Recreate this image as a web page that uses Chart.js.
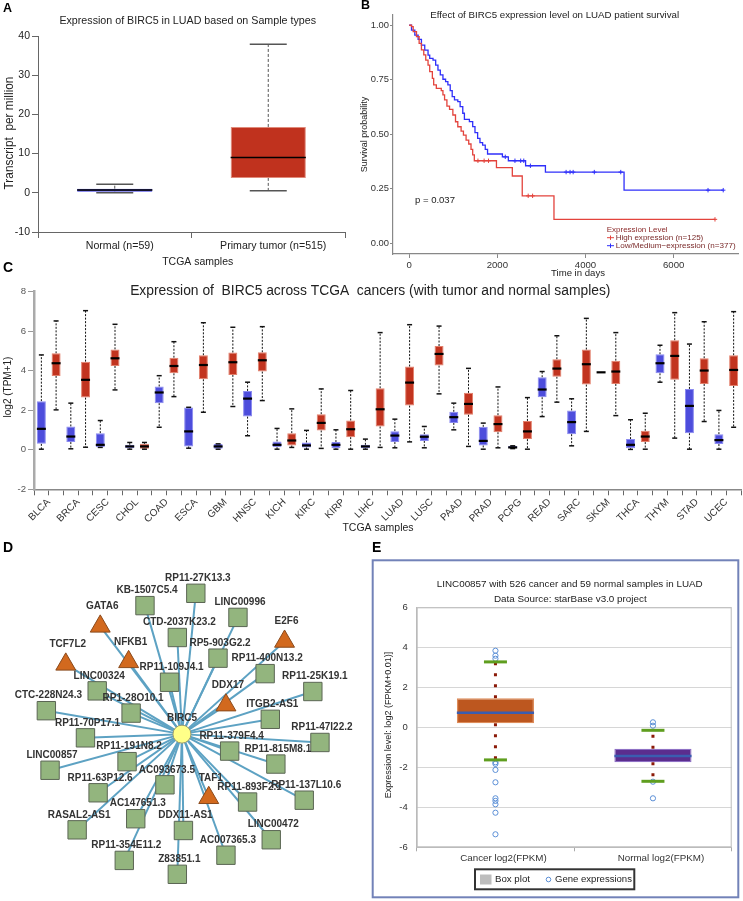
<!DOCTYPE html>
<html>
<head>
<meta charset="utf-8">
<title>BIRC5 figure</title>
<script src="https://cdn.jsdelivr.net/npm/chart.js@4.4.1/dist/chart.umd.min.js"></script>
<style>
  html, body { margin:0; padding:0; background:#fff; }
  body { position:relative; width:743px; height:901px; overflow:hidden; font-family:"Liberation Sans", Arial, sans-serif; }
  canvas { position:absolute; }
  .plabel { position:absolute; font-weight:bold; color:#000; line-height:1; z-index:5; font-family:"Liberation Sans", Arial, sans-serif; }
</style>
</head>
<body>
<div class="plabel" style="left:3px;top:2px;font-size:12.5px">A</div>
<div class="plabel" style="left:361px;top:-1px;font-size:12.5px">B</div>
<div class="plabel" style="left:3px;top:260px;font-size:14px">C</div>
<div class="plabel" style="left:3px;top:540px;font-size:14px">D</div>
<div class="plabel" style="left:372px;top:540px;font-size:14px">E</div>
<script>
// ================= DATA =================
// Panel A : BIRC5 in LUAD by sample type (box plot)
const aCategories = ['Normal (n=59)', 'Primary tumor (n=515)'];
const aMin    = [0.0, 0.5];
const aQ1     = [0.28, 3.8];
const aMedian = [0.7, 9.0];
const aQ3     = [1.05, 16.8];
const aMax    = [2.2, 37.9];
const aTicks  = [-10, 0, 10, 20, 30, 40];

// Panel B : Kaplan-Meier survival
const bGroups = ['High expression (n=125)', 'Low/Medium\u2212expression (n=377)'];
const bHighTime = [0,53,91,166,226,278,331,376,428,466,526,556,616,728,766,803,856,916,991,1051,1103,1178,1231,1291,1351,1403,1441,1478,1980,2340,2565,3285,6938];
const bHighSurv = [1,0.994,0.971,0.948,0.917,0.887,0.864,0.840,0.817,0.787,0.756,0.726,0.710,0.700,0.680,0.657,0.629,0.614,0.588,0.557,0.534,0.514,0.496,0.473,0.455,0.430,0.405,0.378,0.346,0.308,0.217,0.109,0.109];
const bLowTime = [0,53,128,203,278,353,428,466,541,601,653,706,766,826,878,931,976,1028,1103,1156,1216,1253,1366,1441,1493,1553,1606,1666,1726,1778,2115,2250,2641,3091,4875,7125];
const bLowSurv = [1,0.978,0.955,0.935,0.909,0.886,0.863,0.848,0.840,0.817,0.794,0.772,0.752,0.741,0.726,0.700,0.672,0.657,0.649,0.626,0.596,0.568,0.558,0.535,0.507,0.481,0.461,0.450,0.430,0.409,0.396,0.378,0.355,0.326,0.243,0.243];
const bHighCensorTime = [1560, 1700, 1800, 2700, 2800, 6938];
const bHighCensorSurv = [0.378, 0.378, 0.378, 0.217, 0.217, 0.109];
const bLowCensorTime = [2180, 2400, 2530, 2600, 2750, 3560, 3650, 3720, 4200, 4800, 6780, 7125];
const bLowCensorSurv = [0.396, 0.378, 0.378, 0.378, 0.355, 0.326, 0.326, 0.326, 0.326, 0.326, 0.243, 0.243];
const bTimeTicks = [0, 2000, 4000, 6000];
const bSurvTicks = [0, 0.25, 0.5, 0.75, 1];
const bPValue = 'p = 0.037';

// Panel C : BIRC5 across TCGA cancers (normal / tumor box plots)
const cCancers = ['BLCA','BRCA','CESC','CHOL','COAD','ESCA','GBM','HNSC','KICH','KIRC','KIRP','LIHC','LUAD','LUSC','PAAD','PRAD','PCPG','READ','SARC','SKCM','THCA','THYM','STAD','UCEC'];
const cNormalMin = [0.03,0.05,0.12,0.03,1.14,0.08,0.03,0.71,0.03,0.03,0.03,0.03,0.10,0.10,1.01,0.03,0.06,1.68,0.20,3.92,0.02,3.42,0.03,0.03];
const cNormalQ1  = [0.30,0.39,0.13,0.08,2.36,0.17,0.05,1.68,0.13,0.12,0.08,0.08,0.39,0.45,1.36,0.22,0.08,2.66,0.79,3.92,0.08,3.87,0.84,0.29];
const cNormalMed = [1.06,0.67,0.25,0.17,2.90,0.93,0.17,2.59,0.25,0.22,0.25,0.17,0.72,0.66,1.65,0.45,0.12,3.05,1.40,3.92,0.25,4.38,2.22,0.49];
const cNormalQ3  = [2.46,1.18,0.84,0.25,3.20,2.14,0.29,2.98,0.42,0.37,0.39,0.25,0.94,0.79,1.92,1.16,0.19,3.67,1.99,3.92,0.54,4.83,3.08,0.79];
const cNormalMax = [4.80,2.36,1.48,0.37,3.75,2.15,0.30,3.42,1.08,0.98,1.01,0.54,1.55,1.18,2.36,1.35,0.20,3.96,2.58,3.92,1.52,5.29,5.35,1.99];
const cTumorMin  = [2.02,0.13,3.03,0.03,2.69,1.90,2.19,2.49,0.12,0.07,0.03,0.12,0.40,2.83,0.17,0.10,0.03,2.41,0.93,1.73,0.03,0.59,1.43,1.14];
const cTumorQ1   = [3.74,2.64,4.24,0.05,3.87,3.57,3.79,3.96,0.22,0.98,0.64,1.18,2.24,4.26,1.77,0.89,0.54,3.70,3.30,3.33,0.39,3.54,3.33,3.23];
const cTumorMed  = [4.38,3.54,4.63,0.17,4.24,4.29,4.43,4.53,0.47,1.36,1.04,2.05,3.40,4.85,2.32,1.30,0.93,4.11,4.33,3.96,0.67,4.75,4.01,4.04];
const cTumorQ3   = [4.88,4.46,5.08,0.30,4.66,4.78,4.92,4.93,0.84,1.80,1.48,3.11,4.21,5.25,2.88,1.75,1.46,4.58,5.07,4.51,0.96,5.54,4.63,4.78];
const cTumorMax  = [6.52,7.04,6.35,0.37,5.47,6.43,6.20,6.23,2.07,3.08,3.00,5.93,6.33,6.26,4.12,3.18,2.64,5.77,6.65,5.93,1.85,6.94,6.48,6.99];
const cTicks = [-2, 0, 2, 4, 6, 8];

// Panel D : BIRC5 co-expression / regulation network (layout coordinates)
const dHub = 'BIRC5';
const dHubX = 181.7, dHubY = 216;
const dNodes = ['RP11-27K13.3','KB-1507C5.4','LINC00996','GATA6','E2F6','CTD-2037K23.2','TCF7L2','NFKB1','RP5-903G2.2','RP11-400N13.2','RP11-109J4.1','LINC00324','RP11-25K19.1','DDX17','CTC-228N24.3','RP1-28O10.1','ITGB2-AS1','RP11-70P17.1','RP11-47I22.2','RP11-379F4.4','RP11-191N8.2','RP11-815M8.1','LINC00857','AC093673.5','RP11-63P12.6','TAF1','RP11-893F2.1','RP11-137L10.6','AC147651.3','RASAL2-AS1','DDX11-AS1','LINC00472','AC007365.3','RP11-354E11.2','Z83851.1'];
const dNodeX = [196.7,141.7,242.3,93.3,292.7,176.7,56,124,220.7,271.7,168.3,90,323.3,229.3,35,126.7,277.3,77.3,331,233.3,122.3,283.3,39,163.3,91,210.7,252.7,314,131.7,68.3,183.3,278.3,229.3,119.3,176.7];
const dNodeY = [64,77.3,90,99.7,116,111.7,140.7,138,134,150.7,160,169.3,170,184.7,190.7,193.3,200,220,225,234.3,245.7,248.3,255,270.7,279.3,284.7,289.3,287.3,307.3,319.3,320,330,346.7,352.3,367.3];
const dTFs = ['GATA6','E2F6','TCF7L2','NFKB1','DDX17','TAF1'];

// Panel E : LINC00857 in LUAD (starBase)
const eCategories = ['Cancer log2(FPKM)', 'Normal log2(FPKM)'];
const eMin    = [-1.63, -2.70];
const eQ1     = [0.20, -1.75];
const eMedian = [0.73, -1.43];
const eQ3     = [1.45, -1.07];
const eMax    = [3.27, -0.15];
const eCancerOutliers = [3.83, 3.58, 3.43, -1.75, -1.83, -2.13, -2.75, -3.55, -3.68, -3.85, -4.27, -5.35];
const eNormalOutliers = [0.25, 0.08, -2.72, -3.55];
const eTicks = [-6, -4, -2, 0, 2, 4, 6];

// ================= HELPERS =================
const FAMILY = '"Liberation Sans", Arial, Helvetica, sans-serif';
Chart.defaults.font.family = FAMILY;
Chart.defaults.color = '#333';
Chart.defaults.animation = false;
Chart.defaults.responsive = false;
Chart.defaults.events = [];
Chart.defaults.plugins.legend.display = false;
Chart.defaults.plugins.tooltip.enabled = false;

function makeCanvas(x, y, w, h) {
  const c = document.createElement('canvas');
  c.width = w; c.height = h;
  c.style.left = x + 'px'; c.style.top = y + 'px';
  c.style.width = w + 'px'; c.style.height = h + 'px';
  document.body.appendChild(c);
  return c;
}
function fitFont(ctx, text, width, weight) {
  ctx.font = `${weight || 'normal'} 100px ${FAMILY}`;
  const w = ctx.measureText(text).width;
  return `${weight || 'normal'} ${(100 * width / w).toFixed(2)}px ${FAMILY}`;
}
function drawText(ctx, text, x, y, o) {
  ctx.save();
  ctx.fillStyle = o.color || '#222';
  ctx.font = o.width ? fitFont(ctx, text, o.width, o.weight) : `${o.weight || 'normal'} ${o.size || 11}px ${FAMILY}`;
  ctx.textAlign = o.align || 'center';
  ctx.textBaseline = 'middle';
  ctx.translate(x, y);
  if (o.rotate) ctx.rotate(o.rotate);
  ctx.fillText(text, 0, 0);
  ctx.restore();
}
function fixV(w) { return s => { s.width = w; s.paddingTop = s.paddingBottom = s.paddingLeft = s.paddingRight = 0; }; }
function fixH(h) { return s => { s.height = h; s.paddingTop = s.paddingBottom = s.paddingLeft = s.paddingRight = 0; }; }
function setTicks(values) { return s => { s.ticks = values.map(v => ({ value: v })); }; }

// box-plot whiskers/caps/medians drawn through the y scale and bar elements
function boxPlugin(id, s) {
  return {
    id,
    beforeDatasetsDraw(chart) {
      const ctx = chart.ctx, ys = chart.scales.y;
      chart.getDatasetMeta(0).data.forEach((bar, i) => {
        const x = bar.x;
        ctx.save();
        ctx.strokeStyle = s.whiskerColor; ctx.lineWidth = s.whiskerWidth;
        ctx.setLineDash(s.dash); ctx.lineDashOffset = 0;
        ctx.beginPath();
        ctx.moveTo(x, ys.getPixelForValue(s.q3[i])); ctx.lineTo(x, ys.getPixelForValue(s.max[i]));
        ctx.stroke();
        ctx.beginPath();
        ctx.moveTo(x, ys.getPixelForValue(s.q1[i])); ctx.lineTo(x, ys.getPixelForValue(s.min[i]));
        ctx.stroke();
        ctx.restore();
      });
    },
    afterDatasetsDraw(chart) {
      const ctx = chart.ctx, ys = chart.scales.y;
      chart.getDatasetMeta(0).data.forEach((bar, i) => {
        const x = bar.x, hw = bar.width / 2;
        ctx.save();
        if (s.min[i] !== s.max[i]) {
          ctx.strokeStyle = s.capColor; ctx.lineWidth = s.capWidth;
          [s.max[i], s.min[i]].forEach(v => {
            const p = ys.getPixelForValue(v);
            ctx.beginPath(); ctx.moveTo(x - s.capLen / 2, p); ctx.lineTo(x + s.capLen / 2, p); ctx.stroke();
          });
        }
        const pm = ys.getPixelForValue(s.med[i]);
        ctx.strokeStyle = s.medColor; ctx.lineWidth = s.medWidth;
        ctx.beginPath(); ctx.moveTo(x - hw, pm); ctx.lineTo(x + hw, pm); ctx.stroke();
        ctx.restore();
      });
    }
  };
}

// ================= PANEL A =================
(function () {
  const cv = makeCanvas(0, 0, 360, 275);
  new Chart(cv, {
    type: 'bar',
    data: {
      labels: aCategories,
      datasets: [{
        data: aCategories.map((_, i) => [aQ1[i], aQ3[i]]),
        backgroundColor: ['#2a2a8e', '#c0321e'],
        borderColor: ['#3c3ce6', '#e08a7a'],
        borderWidth: 1, borderSkipped: false,
        barPercentage: 0.49, categoryPercentage: 1
      }]
    },
    options: {
      devicePixelRatio: 1,
      layout: { padding: { left: 0, top: 36, right: 15, bottom: 0 } },
      scales: {
        x: {
          type: 'category', offset: true,
          grid: { offset: true, drawOnChartArea: false, tickLength: 6, color: '#666' },
          border: { color: '#666', width: 1 },
          ticks: { font: { size: 10.6 }, color: '#222', padding: 2, labelOffset: 5 },
          afterFit: fixH(43)
        },
        y: {
          min: -10, max: 40, afterBuildTicks: setTicks(aTicks),
          grid: { drawOnChartArea: false, tickLength: 6, color: '#666' },
          border: { color: '#666', width: 1 },
          ticks: { font: { size: 10.5 }, color: '#222', padding: 2 },
          afterFit: fixV(38)
        }
      }
    },
    plugins: [
      boxPlugin('boxA', { min: aMin, q1: aQ1, med: aMedian, q3: aQ3, max: aMax,
        whiskerColor: '#555', whiskerWidth: 1, dash: [3, 2], capColor: '#555', capWidth: 1.5, capLen: 37,
        medColor: '#000', medWidth: 1.6 }),
      { id: 'textA', afterDraw(chart) {
        const ctx = chart.ctx;
        drawText(ctx, 'Expression of BIRC5 in LUAD based on Sample types', 187.7, 20.7, { width: 256.7 });
        drawText(ctx, 'Transcript  per million', 10, 133, { width: 113, rotate: -Math.PI / 2 });
        drawText(ctx, 'TCGA samples', 197.7, 261.7, { width: 71 });
      } }
    ]
  });
})();

// ================= PANEL B =================
(function () {
  const ox = 355;
  const cv = makeCanvas(ox, 0, 388, 285);
  const pts = (t, s) => t.map((v, i) => ({ x: v, y: s[i] }));
  new Chart(cv, {
    type: 'line',
    data: {
      datasets: [
        { data: pts(bHighTime, bHighSurv), borderColor: '#e3433c', borderWidth: 1.3, stepped: true, pointRadius: 0, fill: false, order: 1 },
        { data: pts(bLowTime, bLowSurv), borderColor: '#2f2ffa', borderWidth: 1.3, stepped: true, pointRadius: 0, fill: false, order: 2 },
        { type: 'scatter', data: pts(bHighCensorTime, bHighCensorSurv), pointStyle: 'cross', pointRadius: 2.2, borderColor: '#e3433c', borderWidth: 1, order: 0 },
        { type: 'scatter', data: pts(bLowCensorTime, bLowCensorSurv), pointStyle: 'cross', pointRadius: 2.2, borderColor: '#2f2ffa', borderWidth: 1, order: 0 }
      ]
    },
    options: {
      devicePixelRatio: 1,
      layout: { padding: { left: 0, top: 15, right: 2, bottom: 0 } },
      scales: {
        x: {
          type: 'linear', min: -367, max: 7460, afterBuildTicks: setTicks(bTimeTicks),
          grid: { drawOnChartArea: false, tickLength: 4, color: '#888' },
          border: { color: '#888', width: 1.2 },
          ticks: { font: { size: 9.6 }, color: '#333', padding: 2, callback: v => String(v) },
          afterFit: fixH(31)
        },
        y: {
          min: -0.05, max: 1.047, afterBuildTicks: setTicks(bSurvTicks),
          grid: { drawOnChartArea: false, tickLength: 3, color: '#888' },
          border: { color: '#888', width: 1.2 },
          ticks: { font: { size: 9.4 }, color: '#333', padding: 1, callback: v => Number(v).toFixed(2) },
          afterFit: fixV(38)
        }
      }
    },
    plugins: [{ id: 'textB', afterDraw(chart) {
      const ctx = chart.ctx;
      drawText(ctx, 'Effect of BIRC5 expression level on LUAD patient survival', 554.7 - ox, 15, { width: 249 });
      drawText(ctx, 'Survival probability', 364.3 - ox, 134.5, { size: 9, rotate: -Math.PI / 2 });
      drawText(ctx, 'Time in days', 578 - ox, 273.3, { width: 54 });
      drawText(ctx, bPValue, 415 - ox, 200, { width: 40, align: 'left' });
      drawText(ctx, 'Expression Level', 606.7 - ox, 229.3, { width: 61, align: 'left', color: '#8b2a2a' });
      const cols = ['#e3433c', '#2f2ffa'];
      const widths = [87.7, 120];
      bGroups.forEach((g, i) => {
        const y = 237.7 + i * 8;
        ctx.save();
        ctx.strokeStyle = cols[i]; ctx.lineWidth = 1;
        ctx.beginPath();
        ctx.moveTo(607 - ox, y); ctx.lineTo(614 - ox, y);
        ctx.moveTo(610.5 - ox, y - 2.2); ctx.lineTo(610.5 - ox, y + 2.2);
        ctx.stroke();
        ctx.restore();
        drawText(ctx, g, 615.7 - ox, y, { width: widths[i], align: 'left', color: '#7a2a2a' });
      });
    } }]
  });
})();

// ================= PANEL C =================
(function () {
  const oy = 255;
  const cv = makeCanvas(0, oy, 743, 280);
  const labels = [], lo = [], hi = [], mins = [], meds = [], maxs = [], bg = [], bd = [];
  cCancers.forEach((c, i) => {
    labels.push(c, '');
    lo.push(cNormalQ1[i], cTumorQ1[i]);
    hi.push(cNormalQ3[i], cTumorQ3[i]);
    mins.push(cNormalMin[i], cTumorMin[i]);
    meds.push(cNormalMed[i], cTumorMed[i]);
    maxs.push(cNormalMax[i], cTumorMax[i]);
    bg.push('#4d4ddc', '#c2341f');
    bd.push('#8a8af0', '#e3806c');
  });
  new Chart(cv, {
    type: 'bar',
    data: {
      labels,
      datasets: [{
        data: labels.map((_, i) => [lo[i], hi[i]]),
        backgroundColor: bg, borderColor: bd, borderWidth: 1, borderSkipped: false,
        barPercentage: 0.61, categoryPercentage: 1
      }]
    },
    options: {
      devicePixelRatio: 1,
      layout: { padding: { left: 0, top: 36.7, right: 2, bottom: 0 } },
      scales: {
        x: {
          type: 'category', offset: true,
          grid: { offset: true, drawOnChartArea: false, tickLength: 6, color: '#666' },
          border: { color: '#888', width: 1.5 },
          ticks: { autoSkip: false, minRotation: 45, maxRotation: 45, labelOffset: 7.36, font: { size: 10 }, color: '#333', padding: 1 },
          afterFit: fixH(45.7)
        },
        y: {
          min: -2, max: 8, afterBuildTicks: setTicks(cTicks),
          grid: { drawOnChartArea: false, tickLength: 6, color: '#999' },
          border: { color: '#aaa', width: 2.5 },
          ticks: { font: { size: 9.6 }, color: '#555', padding: 2 },
          afterFit: fixV(34)
        }
      }
    },
    plugins: [
      boxPlugin('boxC', { min: mins, q1: lo, med: meds, q3: hi, max: maxs,
        whiskerColor: '#111', whiskerWidth: 1, dash: [2, 1.5], capColor: '#111', capWidth: 1.5, capLen: 5,
        medColor: '#000', medWidth: 2.2 }),
      { id: 'textC', afterDraw(chart) {
        const ctx = chart.ctx;
        drawText(ctx, 'Expression of  BIRC5 across TCGA  cancers (with tumor and normal samples)', 370.3, 291.5 - oy, { width: 480.7 });
        drawText(ctx, 'log2 (TPM+1)', 8, 387 - oy, { size: 10, rotate: -Math.PI / 2 });
        drawText(ctx, 'TCGA samples', 378, 528 - oy, { size: 10.5 });
      } }
    ]
  });
})();

// ================= PANEL D =================
(function () {
  const cv = makeCanvas(0, 520, 370, 381);
  const isTF = n => dTFs.includes(n);
  const edges = dNodes.map((n, i) => ({
    type: 'scatter', showLine: true,
    data: [{ x: dHubX, y: dHubY }, { x: dNodeX[i], y: dNodeY[i] }],
    borderColor: '#5da2c3', borderWidth: 2, pointRadius: 0, order: 10
  }));
  const sq = [], tri = [];
  dNodes.forEach((n, i) => (isTF(n) ? tri : sq).push({ x: dNodeX[i], y: dNodeY[i] }));
  new Chart(cv, {
    type: 'scatter',
    data: {
      datasets: [
        ...edges,
        { data: sq, pointStyle: 'rect', pointRadius: 13, backgroundColor: '#93b57e', borderColor: '#5b6654', borderWidth: 1, order: 2 },
        { data: tri, pointStyle: 'triangle', pointRadius: 11.5, backgroundColor: '#d2691e', borderColor: '#8a4a1c', borderWidth: 1, order: 1 },
        { data: [{ x: dHubX, y: dHubY }], pointStyle: 'circle', pointRadius: 9, backgroundColor: '#ffff88', borderColor: '#9a9a70', borderWidth: 1, order: 0 }
      ]
    },
    options: {
      devicePixelRatio: 1,
      layout: { padding: 0 },
      scales: {
        x: { type: 'linear', min: 0, max: 370, display: false },
        y: { type: 'linear', min: 0, max: 381, reverse: true, display: false }
      }
    },
    plugins: [{ id: 'labelsD', afterDatasetsDraw(chart) {
      const ctx = chart.ctx, xs = chart.scales.x, ys = chart.scales.y;
      ctx.save();
      ctx.font = `bold 10px ${FAMILY}`;
      ctx.fillStyle = '#333'; ctx.textAlign = 'center'; ctx.textBaseline = 'middle';
      dNodes.forEach((n, i) => {
        const px = xs.getPixelForValue(dNodeX[i]), py = ys.getPixelForValue(dNodeY[i]);
        ctx.fillText(n, px + 2, py + (isTF(n) ? -20 : -15));
      });
      ctx.fillText(dHub, xs.getPixelForValue(dHubX), ys.getPixelForValue(dHubY) - 16);
      ctx.restore();
    } }]
  });
})();

// ================= PANEL E =================
(function () {
  const ox = 370, oy = 520;
  const cv = makeCanvas(ox, oy, 373, 381);
  const outl = (vals, cat) => vals.map(v => ({ x: cat, y: v }));
  new Chart(cv, {
    type: 'bar',
    data: {
      labels: eCategories,
      datasets: [
        { data: eCategories.map((_, i) => [eQ1[i], eQ3[i]]),
          backgroundColor: ['#bd571f', '#5b2d8e'], borderColor: ['#dd8c5a', '#8e70c4'],
          borderWidth: 1.2, borderSkipped: false, barPercentage: 0.49, categoryPercentage: 1, order: 2 },
        { type: 'line', showLine: false, data: [...outl(eCancerOutliers, eCategories[0]), ...outl(eNormalOutliers, eCategories[1])],
          pointStyle: 'circle', pointRadius: 2.6, borderColor: '#5b8fd6', backgroundColor: 'rgba(255,255,255,0)', borderWidth: 1, order: 0 }
      ]
    },
    options: {
      devicePixelRatio: 1,
      layout: { padding: { left: 0, top: 87.3, right: 11.3, bottom: 0 } },
      scales: {
        x: {
          type: 'category', offset: true,
          grid: { offset: true, drawOnChartArea: false, tickLength: 4, color: '#aaa' },
          border: { color: '#bbb', width: 1 },
          ticks: { font: { size: 9.8 }, color: '#333', padding: 1, labelOffset: 8 },
          afterFit: fixH(53.7)
        },
        y: {
          min: -6, max: 6, afterBuildTicks: setTicks(eTicks),
          grid: { drawTicks: false, color: '#d6d6d6', lineWidth: 1 },
          border: { color: '#bbb', width: 1 },
          ticks: { font: { size: 9.5 }, color: '#333', padding: 9 },
          afterFit: fixV(46.7)
        }
      }
    },
    plugins: [
      { id: 'frameE', beforeDraw(chart) {
        const ctx = chart.ctx;
        ctx.save();
        ctx.strokeStyle = '#7282b8'; ctx.lineWidth = 2;
        ctx.strokeRect(372.7 - ox, 560.3 - oy, 365.6, 337);
        ctx.restore();
      }, afterDraw(chart) {
        const ctx = chart.ctx, a = chart.chartArea;
        ctx.save();
        ctx.strokeStyle = '#bbb'; ctx.lineWidth = 1;
        ctx.strokeRect(a.left + 0.5, a.top + 0.5, a.right - a.left - 1, a.bottom - a.top - 1);
        ctx.restore();
        drawText(ctx, 'LINC00857 with 526 cancer and 59 normal samples in LUAD', 569.7 - ox, 584.3 - oy, { width: 266 });
        drawText(ctx, 'Data Source: starBase v3.0 project', 570.3 - ox, 599.3 - oy, { width: 152.7 });
        drawText(ctx, 'Expression level: log2 (FPKM+0.01)]', 388.3 - ox, 725 - oy, { width: 146.7, rotate: -Math.PI / 2 });
        // legend
        ctx.save();
        ctx.fillStyle = '#fff'; ctx.fillRect(475 - ox, 869.3 - oy, 159.3, 20);
        ctx.strokeStyle = '#333'; ctx.lineWidth = 2;
        ctx.strokeRect(475 - ox, 869.3 - oy, 159.3, 20);
        ctx.fillStyle = '#bdbdbd'; ctx.fillRect(480 - ox, 874.5 - oy, 11.5, 10);
        ctx.strokeStyle = '#5b8fd6'; ctx.lineWidth = 1;
        ctx.beginPath(); ctx.arc(548.5 - ox, 879.5 - oy, 2.3, 0, Math.PI * 2); ctx.stroke();
        ctx.restore();
        drawText(ctx, 'Box plot', 495 - ox, 879.3 - oy, { width: 35, align: 'left' });
        drawText(ctx, 'Gene expressions', 555 - ox, 879.3 - oy, { width: 77, align: 'left' });
      } },
      { id: 'boxE', beforeDatasetsDraw(chart) {
        const ctx = chart.ctx, ys = chart.scales.y;
        chart.getDatasetMeta(0).data.forEach((bar, i) => {
          ctx.save();
          ctx.strokeStyle = '#8b1a08'; ctx.lineWidth = 3; ctx.setLineDash([3, 8]);
          ctx.beginPath(); ctx.moveTo(bar.x, ys.getPixelForValue(eQ3[i])); ctx.lineTo(bar.x, ys.getPixelForValue(eMax[i])); ctx.stroke();
          ctx.beginPath(); ctx.moveTo(bar.x, ys.getPixelForValue(eQ1[i])); ctx.lineTo(bar.x, ys.getPixelForValue(eMin[i])); ctx.stroke();
          ctx.restore();
        });
      }, afterDatasetsDraw(chart) {
        const ctx = chart.ctx, ys = chart.scales.y;
        chart.getDatasetMeta(0).data.forEach((bar, i) => {
          ctx.save();
          ctx.strokeStyle = '#5f9e1f'; ctx.lineWidth = 3;
          [eMax[i], eMin[i]].forEach(v => {
            const p = ys.getPixelForValue(v);
            ctx.beginPath(); ctx.moveTo(bar.x - 11.5, p); ctx.lineTo(bar.x + 11.5, p); ctx.stroke();
          });
          const pm = ys.getPixelForValue(eMedian[i]);
          ctx.strokeStyle = '#3a5db0'; ctx.lineWidth = 2.5;
          ctx.beginPath(); ctx.moveTo(bar.x - bar.width / 2, pm); ctx.lineTo(bar.x + bar.width / 2, pm); ctx.stroke();
          ctx.restore();
        });
      } }
    ]
  });
})();
</script>
</body>
</html>
